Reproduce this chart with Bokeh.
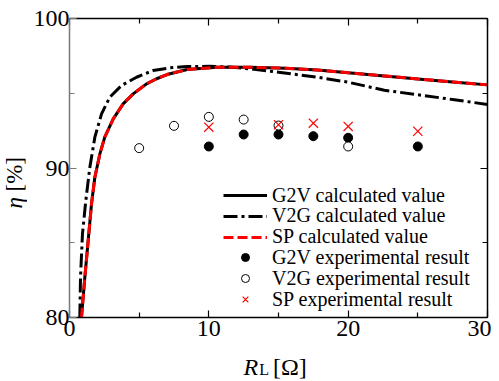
import math
from bokeh.plotting import figure
from bokeh.layouts import row, column
from bokeh.models import Range1d, LinearAxis, FixedTicker, Legend, LegendItem
from bokeh.core.properties import value
from bokeh.embed import file_html
from bokeh.resources import INLINE

# ---- data ----
g2v_calc_x = [0.86, 1.10, 1.34, 1.58, 1.82, 2.18, 2.53, 3.14, 3.85, 4.57, 5.53, 6.25,
              7.0, 8.45, 10.6, 13.0, 15.5, 17.8, 20.0, 22.6, 25.0, 27.5, 30.0]
g2v_calc_y = [80.0, 82.68, 85.14, 87.6, 89.38, 90.94, 92.06, 93.29, 94.29, 94.96, 95.63, 95.97,
              96.25, 96.59, 96.74, 96.74, 96.68, 96.55, 96.37, 96.16, 95.96, 95.76, 95.56]

v2g_calc_x = [0.74, 0.79, 0.93, 1.17, 1.46, 1.82, 2.30, 2.89, 3.73, 4.81, 6.0, 7.2,
              8.45, 10.0, 11.5, 13.0, 15.0, 17.8, 20.0, 22.6, 25.0, 27.5, 30.0]
v2g_calc_y = [80.0, 82.68, 85.58, 87.82, 90.05, 92.06, 93.62, 94.73, 95.52, 96.07, 96.52, 96.7,
              96.79, 96.8, 96.75, 96.63, 96.41, 96.07, 95.74, 95.2, 94.9, 94.58, 94.25]

sp_calc_x = [0.86, 1.10, 1.34, 1.58, 1.82, 2.18, 2.53, 3.14, 3.85, 4.57, 5.53, 6.25,
             7.0, 8.45, 10.6, 13.0, 15.5, 17.8, 20.0, 22.6, 25.0, 27.5, 30.0]
sp_calc_y = [80.0, 82.68, 85.14, 87.6, 89.38, 90.94, 92.06, 93.29, 94.29, 94.96, 95.63, 95.97,
             96.25, 96.59, 96.74, 96.74, 96.68, 96.55, 96.37, 96.16, 95.96, 95.76, 95.56]

g2v_exp_x = [10, 12.5, 15, 17.5, 20, 25]
g2v_exp_y = [91.44, 92.24, 92.24, 92.13, 92.02, 91.44]

v2g_exp_x = [5, 7.5, 10, 12.5, 15, 20]
v2g_exp_y = [91.33, 92.82, 93.42, 93.24, 92.84, 91.44]

sp_exp_x = [10, 15, 17.5, 20, 25]
sp_exp_y = [92.73, 92.89, 93.0, 92.78, 92.46]

x_major = [0, 10, 20, 30]
x_minor = [5, 15, 25]
y_major = [80, 90, 100]
y_minor = [85, 95]

labels = ["G2V calculated value", "V2G calculated value", "SP calculated value",
          "G2V experimental result", "V2G experimental result", "SP experimental result"]

FONT = "Liberation Serif"
STRIP_W = 27
MAIN_W = 464

# ---- main plot ----
p = figure(width=MAIN_W, height=349, output_backend="svg", toolbar_location=None, title=None,
           x_range=Range1d(0, 30), y_range=Range1d(80, 100),
           min_border_left=42, min_border_right=4, min_border_top=18, min_border_bottom=32)
p.outline_line_color = None
p.xgrid.visible = False
p.ygrid.visible = False
p.background_fill_color = "white"
p.border_fill_color = "white"

def style_axis(ax, major, minor, color="black", show_labels=True):
    ax.ticker = FixedTicker(ticks=major, minor_ticks=minor)
    ax.axis_line_color = color
    ax.axis_line_width = 1.5
    ax.major_tick_line_color = color
    ax.minor_tick_line_color = color
    ax.major_tick_line_width = 1.2
    ax.minor_tick_line_width = 1.2
    ax.major_tick_in = 7
    ax.major_tick_out = 0
    ax.minor_tick_in = 5
    ax.minor_tick_out = 0
    ax.major_label_text_font = FONT
    ax.major_label_text_font_size = "24px"
    ax.major_label_text_color = "black"
    if not show_labels:
        ax.major_label_overrides = {t: "" for t in major}
        ax.major_label_text_font_size = "0px"
        ax.major_label_standoff = 0

style_axis(p.xaxis[0], x_major, x_minor)
p.xaxis[0].major_label_standoff = 3
style_axis(p.yaxis[0], y_major, y_minor, color="#7a7a7a")
p.yaxis[0].major_label_standoff = 0

top = LinearAxis()
style_axis(top, x_major, x_minor, show_labels=False)
p.add_layout(top, "above")
right = LinearAxis()
style_axis(right, y_major, y_minor, show_labels=False)
p.add_layout(right, "right")

r1 = p.line(g2v_calc_x, g2v_calc_y, line_color="black", line_width=3)
r2 = p.line(v2g_calc_x, v2g_calc_y, line_color="black", line_width=3, line_dash="14 4 3 4")
r3 = p.line(sp_calc_x, sp_calc_y, line_color="#ff0000", line_width=3, line_dash="10 4")
r4 = p.scatter(g2v_exp_x, g2v_exp_y, marker="circle", size=9, fill_color="black", line_color="black")
r5 = p.scatter(v2g_exp_x, v2g_exp_y, marker="circle", size=9, fill_color="white", line_color="black", line_width=1)
r6 = p.scatter(sp_exp_x, sp_exp_y, marker="x", size=13, line_color="#ff0000", line_width=1.2)

# one legend per row so that the row pitch matches the reference
row_pitch = 20.8
for i, (lab_, r) in enumerate(zip(labels, [r1, r2, r3, r4, r5, r6])):
    lg = Legend(items=[LegendItem(label=lab_, renderers=[r])],
                location=(154, 6.5 + (5 - i) * row_pitch), padding=0, margin=0, spacing=0,
                label_standoff=5, glyph_width=44, glyph_height=20, label_height=20,
                label_text_font=FONT, label_text_font_size="20px", label_text_color="black",
                border_line_color=None, background_fill_alpha=0)
    p.add_layout(lg)

# ---- axis title strips ----
def strip(w, h, x_range):
    s = figure(width=w, height=h, output_backend="svg", toolbar_location=None, title=None,
               x_range=x_range, y_range=Range1d(0, h),
               x_axis_type=None, y_axis_type=None, min_border=0,
               min_border_left=0, min_border_right=0, min_border_top=0, min_border_bottom=0)
    s.outline_line_color = None
    s.background_fill_color = "white"
    s.border_fill_color = "white"
    return s

# bottom strip: its frame is aligned with the main frame, so it shares the x range
bottom = strip(MAIN_W, 30, p.x_range)
bottom.text(x=[12.48], y=[13], text=["R"], text_font=value(FONT), text_font_style="italic",
            text_font_size="24px", text_align="left", text_baseline="alphabetic", text_color="black")
bottom.text(x=[13.62], y=[10], text=["L"], text_font=value(FONT),
            text_font_size="16px", text_align="left", text_baseline="alphabetic", text_color="black")
bottom.text(x=[14.6], y=[13], text=["[Ω]"], text_font=value(FONT),
            text_font_size="24px", text_align="left", text_baseline="alphabetic", text_color="black")

left = strip(STRIP_W, 379, Range1d(0, STRIP_W))
left.text(x=[13.5], y=[171], text=["η"], text_font=value(FONT), text_font_style="italic",
          text_font_size="23px", angle=math.pi / 2, text_align="left", text_baseline="middle",
          text_color="black")
left.text(x=[13.5], y=[188], text=["[%]"], text_font=value(FONT),
          text_font_size="23px", angle=math.pi / 2, text_align="left", text_baseline="middle",
          text_color="black")

layout = row(left, column(p, bottom))
open("out.html", "w").write(file_html(layout, INLINE))
